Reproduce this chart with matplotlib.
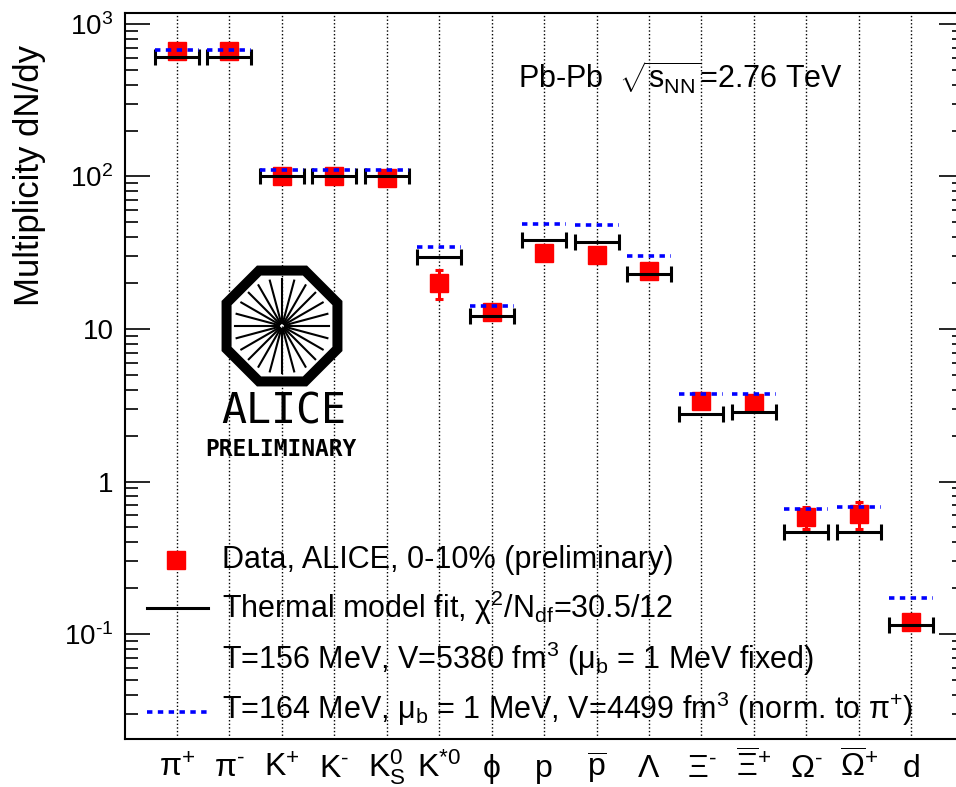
import numpy as np
import matplotlib
matplotlib.use("Agg")
import matplotlib.pyplot as plt
from matplotlib.lines import Line2D
from matplotlib.patches import RegularPolygon
from matplotlib.ticker import FixedLocator, LogLocator, NullFormatter

plt.rcParams['font.family'] = ['Liberation Sans', 'DejaVu Sans']
plt.rcParams['mathtext.fontset'] = 'custom'
plt.rcParams['mathtext.rm'] = 'Liberation Sans'
plt.rcParams['mathtext.it'] = 'Liberation Sans'
plt.rcParams['mathtext.bf'] = 'Liberation Sans:bold'
plt.rcParams['mathtext.default'] = 'regular'

# particle species (x axis)
particles = ['π$^{+}$', 'π$^{\\text{-}}$', 'K$^{+}$', 'K$^{\\text{-}}$', 'K$^{0}_{S}$', 'K$^{*0}$', 'ϕ',
             'p', '$\\overline{p}$', 'Λ', 'Ξ$^{\\text{-}}$', '$\\overline{Ξ}^{+}$', 'Ω$^{\\text{-}}$',
             '$\\overline{Ω}^{+}$', 'd']

# ALICE data, 0-10%
data = [670, 670, 100, 100, 98, 20.0, 12.9, 31.3, 30.5, 24.1, 3.37, 3.29, 0.585, 0.612, 0.119]
data_err = [40, 40, 6, 6, 6, 4.3, 0.9, 2.4, 2.4, 1.5, 0.22, 0.22, 0.10, 0.125, 0.008]

# thermal model fit, T=156 MeV
fit_156 = [610, 610, 101, 101, 101, 29.5, 12.1, 38.2, 37.3, 22.9, 2.79, 2.86, 0.467, 0.467, 0.115]
# thermal model, T=164 MeV (norm. to pi+)
fit_164 = [673, 673, 111, 111, 111, 34.7, 14.2, 49.0, 48.1, 30.0, 3.73, 3.73, 0.664, 0.681, 0.173]

ytick_vals = [0.1, 1, 10, 100, 1000]
ytick_labels = ['10$^{\\text{-}1}$', '1', '10', '10$^{2}$', '10$^{3}$']

W, H = 956, 787


def fx(px):
    return px / W


def fy(py):
    return 1 - py / H


fig = plt.figure(figsize=(W / 100, H / 100), dpi=100)
ax = fig.add_axes([fx(124.5), fy(739.3), 839.2 / W, 726 / H])
ax.set_xlim(0, 16)
ax.set_yscale('log')
ax.set_ylim(0.0204, 1175)

x = np.arange(1, len(particles) + 1)
half = 0.42

ax.errorbar(x, data, yerr=data_err, fmt='s', color='red', ms=13, mec='red',
            elinewidth=2.2, capsize=3, capthick=2.2, zorder=3)
ax.errorbar(x, fit_156, xerr=half, fmt='none', ecolor='black', elinewidth=2.2,
            capsize=6, capthick=2.2, zorder=4)
ax.hlines(fit_164, x - half, x + half, colors='blue', linestyles=(0, (1.5, 1.5)),
          linewidth=2.6, zorder=5)

# axes styling
ax.set_xticks(x)
ax.set_xticklabels(particles)
ax.grid(axis='x', color='black', linestyle=(0, (1, 1.6)), linewidth=1.0)
ax.tick_params(axis='x', length=0, pad=27, labelsize=23)
for lab in ax.get_xticklabels():
    lab.set_verticalalignment('baseline')

ax.yaxis.set_major_locator(FixedLocator(ytick_vals))
ax.set_yticklabels(ytick_labels)
ax.yaxis.set_minor_locator(LogLocator(base=10, subs=np.arange(2, 10), numticks=20))
ax.yaxis.set_minor_formatter(NullFormatter())
ax.tick_params(axis='y', which='major', direction='in', length=18, width=1.2,
               left=True, right=True, labelsize=20, pad=8)
ax.tick_params(axis='y', which='minor', direction='in', length=9, width=1.2,
               left=True, right=True)
for s in ax.spines.values():
    s.set_linewidth(1.5)

fig.text(fx(30), fy(176), 'Multiplicity dN/dy', rotation=90, ha='center', va='center', fontsize=25)
fig.text(fx(518), fy(78), 'Pb-Pb  $\\sqrt{s_{NN}}$=2.76 TeV', ha='left', va='center', fontsize=22)

# legend
fig.add_artist(Line2D([fx(176)], [fy(560)], marker='s', color='red', ms=13, ls='none'))
fig.add_artist(Line2D([fx(147), fx(208)], [fy(608), fy(608)], color='black', lw=2.2))
fig.add_artist(Line2D([fx(147), fx(208)], [fy(712), fy(712)], color='blue', lw=2.6,
                      ls=(0, (1.5, 1.5))))
leg_rows = [
    (560, 'Data, ALICE, 0-10% (preliminary)'),
    (608, 'Thermal model fit, χ$^{2}$/N$_{df}$=30.5/12'),
    (659, 'T=156 MeV, V=5380 fm$^{3}$ (μ$_{b}$ = 1 MeV fixed)'),
    (709, 'T=164 MeV, μ$_{b}$ = 1 MeV, V=4499 fm$^{3}$ (norm. to π$^{+}$)'),
]
for py, txt in leg_rows:
    fig.text(fx(222), fy(py), txt, ha='left', va='center', fontsize=22)

# ALICE logo
lax = fig.add_axes([fx(282 - 70), fy(326 + 70), 140 / W, 140 / H])
lax.set_xlim(-70, 70)
lax.set_ylim(-70, 70)
lax.axis('off')
lax.patch.set_alpha(0)
lax.add_patch(RegularPolygon((0, 0), 8, radius=60, orientation=np.pi / 8, fill=False,
                             lw=7.2, ec='black', joinstyle='miter'))
for a in np.arange(0, 360, 15):
    r = np.radians(a)
    lax.plot([3 * np.cos(r), 47 * np.cos(r)], [3 * np.sin(r), 47 * np.sin(r)],
             color='black', lw=1.5)
fig.text(fx(284), fy(411), 'ALICE', ha='center', va='center', fontsize=30,
         family='DejaVu Sans Mono')
fig.text(fx(281), fy(450), 'PRELIMINARY', ha='center', va='center', fontsize=16.5,
         family='DejaVu Sans Mono', weight='bold')

fig.savefig('out.png', dpi=100)
